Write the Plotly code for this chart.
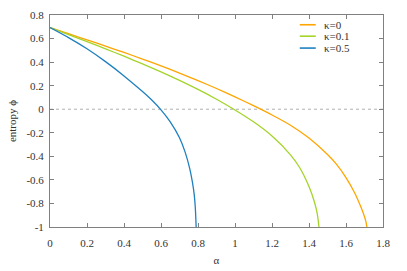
import plotly.graph_objects as go

# kappa = 0
alpha_k0 = [0, 0.1, 0.2, 0.3, 0.4, 0.5, 0.6, 0.7, 0.8, 0.9, 1.0, 1.1, 1.2, 1.3, 1.4, 1.5, 1.55, 1.6, 1.65, 1.675, 1.695, 1.707, 1.713]
phi_k0 = [0.693, 0.641, 0.589, 0.536, 0.482, 0.426, 0.368, 0.307, 0.243, 0.176, 0.105, 0.030, -0.049, -0.136, -0.245, -0.385, -0.47, -0.58, -0.72, -0.81, -0.89, -0.95, -1.0]

# kappa = 0.1
alpha_k01 = [0, 0.1, 0.2, 0.3, 0.4, 0.5, 0.6, 0.7, 0.8, 0.9, 1.0, 1.1, 1.2, 1.3, 1.35, 1.4, 1.43, 1.445, 1.454]
phi_k01 = [0.693, 0.634, 0.574, 0.513, 0.450, 0.385, 0.317, 0.245, 0.168, 0.085, -0.006, -0.107, -0.227, -0.387, -0.497, -0.657, -0.792, -0.89, -1.0]

# kappa = 0.5
alpha_k05 = [0, 0.1, 0.2, 0.3, 0.4, 0.5, 0.55, 0.6, 0.65, 0.7, 0.73, 0.755, 0.77, 0.78, 0.786, 0.79]
phi_k05 = [0.693, 0.608, 0.513, 0.404, 0.283, 0.150, 0.078, -0.005, -0.107, -0.242, -0.362, -0.502, -0.622, -0.732, -0.852, -1.0]

series_names = ["κ=0", "κ=0.1", "κ=0.5"]

x_ticks = [0, 0.2, 0.4, 0.6, 0.8, 1, 1.2, 1.4, 1.6, 1.8]
x_ticktext = ["0", "0.2", "0.4", "0.6", "0.8", "1", "1.2", "1.4", "1.6", "1.8"]
y_ticks = [0.8, 0.6, 0.4, 0.2, 0, -0.2, -0.4, -0.6, -0.8, -1]
y_ticktext = ["0.8", "0.6", "0.4", "0.2", "0", "-0.2", "-0.4", "-0.6", "-0.8", "-1"]

FONT = "Liberation Serif, Times New Roman, serif"
TXT = "#333333"
COLORS = ["#ffa500", "#a4d42a", "#1f80c0"]

fig = go.Figure()
data = [(alpha_k0, phi_k0), (alpha_k01, phi_k01), (alpha_k05, phi_k05)]
for (xs, ys), name, col in zip(data, series_names, COLORS):
    fig.add_trace(go.Scatter(x=xs, y=ys, mode="lines", name=name, showlegend=False,
                             line=dict(color=col, width=1.3, shape="spline", smoothing=0.6)))

# dotted zero reference line
fig.add_shape(type="line", xref="paper", yref="y", x0=0, x1=1, y0=0, y1=0,
              line=dict(color="#b0b0b0", width=1, dash="dot"), layer="below")

# legend (drawn manually for gnuplot-like compact spacing)
leg_y = [0.954, 0.900, 0.844]
for name, col, yy in zip(series_names, COLORS, leg_y):
    fig.add_shape(type="line", xref="paper", yref="paper", x0=0.75, x1=0.798, y0=yy, y1=yy,
                  line=dict(color=col, width=1.6))
    fig.add_annotation(xref="paper", yref="paper", x=0.817, y=yy, text=name,
                       showarrow=False, xanchor="left", yanchor="middle",
                       font=dict(family=FONT, size=11, color=TXT))

axis_common = dict(showgrid=False, zeroline=False, ticks="inside", ticklen=4,
                   tickcolor="#808080", showline=True, linecolor="#808080",
                   linewidth=1, mirror="ticks",
                   tickfont=dict(family=FONT, size=11, color=TXT))

fig.update_layout(
    width=407, height=271,
    margin=dict(l=50, r=24, t=15, b=44, autoexpand=False),
    plot_bgcolor="white", paper_bgcolor="white",
    font=dict(family=FONT, size=11, color=TXT),
    xaxis=dict(range=[0, 1.8], tickvals=x_ticks, ticktext=x_ticktext,
               ticklabelstandoff=6,
               title=dict(text="α", standoff=8, font=dict(family=FONT, size=11, color=TXT)),
               **axis_common),
    yaxis=dict(range=[-1, 0.8], tickvals=y_ticks, ticktext=y_ticktext,
               ticklabelstandoff=3,
               title=dict(text="entropy ϕ", standoff=7, font=dict(family=FONT, size=11, color=TXT)),
               **axis_common),
    showlegend=False,
)

fig.write_html("out.html", config={"displayModeBar": False},
               post_script="document.body.style.margin='0';")
